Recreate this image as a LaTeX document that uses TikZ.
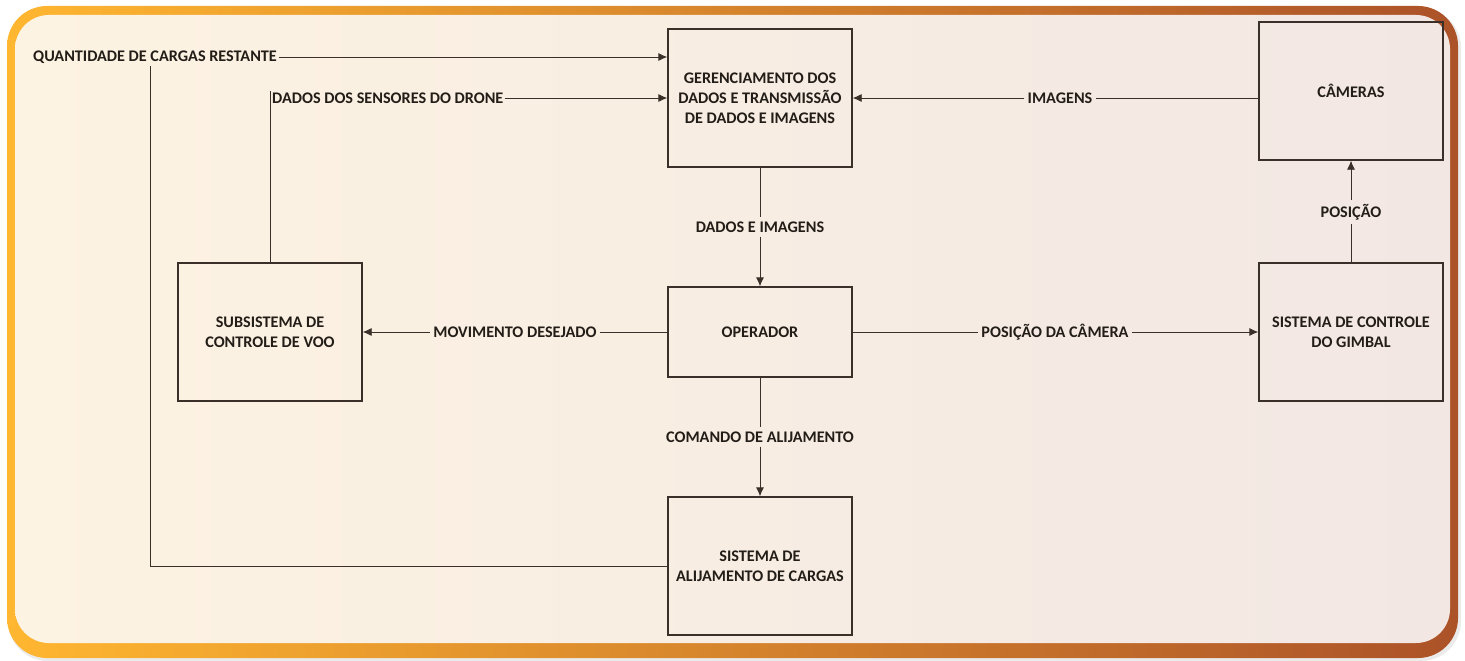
\documentclass[tikz,border=0pt]{standalone}
\usepackage{fontspec}
\setmainfont{Carlito}
\usetikzlibrary{arrows.meta}
\definecolor{fy}{HTML}{FFB630}
\definecolor{fo}{HTML}{F58E2B}
\definecolor{fb}{HTML}{AC5229}
\definecolor{bgl}{HTML}{FDF3E2}
\definecolor{bgm}{HTML}{FBEEE3}
\definecolor{bgr}{HTML}{F2E7E3}
\definecolor{ink}{HTML}{231D18}
\definecolor{ln}{HTML}{3A3029}
\tikzset{
  blk/.style={draw=ln, line width=1.3pt, minimum width=184pt, inner sep=4pt, align=center, text=ink},
  lbl/.style={inner sep=3pt, text=ink},
  conn/.style={draw=ln, line width=0.8pt},
  arr/.style={conn, -{Latex[length=9pt,width=8pt]}},
}
\begin{document}
\begin{tikzpicture}[x=1pt,y=-1pt,font=\fontsize{16.2}{20}\selectfont\bfseries]
\useasboundingbox (0,0) rectangle (1465,661);
\fill[white] (0,0) rectangle (1465,661);
% frame
\fill[black!8] (8,8) [rounded corners=40pt] rectangle (1461,661);
\shade[left color=fy, middle color=fo, right color=fb, rounded corners=40pt] (7,6) rectangle (1458,658);
\shade[left color=bgl, middle color=bgm, right color=bgr, rounded corners=34pt] (15,15) rectangle (1450,643);
% blocks
\node[blk, minimum height=138pt] (ger) at (760,98) {GERENCIAMENTO DOS\\DADOS E TRANSMISSÃO\\DE DADOS E IMAGENS};
\node[blk, minimum height=138pt] (cam) at (1351,91) {CÂMERAS};
\node[blk, minimum height=138pt] (sub) at (270,332) {SUBSISTEMA DE\\CONTROLE DE VOO};
\node[blk, minimum height=90pt] (op) at (760,332) {OPERADOR};
\node[blk, minimum height=138pt] (gim) at (1351,332) {SISTEMA DE CONTROLE\\DO GIMBAL};
\node[blk, minimum height=138pt] (alij) at (760,566) {SISTEMA DE\\ALIJAMENTO DE CARGAS};
% labels
\node[lbl, anchor=west, inner sep=2pt] (q) at (31,57) {QUANTIDADE DE CARGAS RESTANTE};
\node[lbl, anchor=west, inner sep=1pt] (s) at (271,98) {DADOS DOS SENSORES DO DRONE};
\node[lbl] (im) at (1060,98) {IMAGENS};
\node[lbl, inner sep=4pt] (di) at (760,227) {DADOS E IMAGENS};
\node[lbl] (mv) at (515,332) {MOVIMENTO DESEJADO};
\node[lbl] (pc) at (1055,332) {POSIÇÃO DA CÂMERA};
\node[lbl, inner sep=4pt] (ca) at (760,437) {COMANDO DE ALIJAMENTO};
\node[lbl, inner sep=4pt] (pos) at (1351,212) {POSIÇÃO};
\coordinate (qx) at (150,0);
% connectors
\draw[conn] (alij.west) -| (q.south -| qx);
\draw[arr] (q.east) -- (q.east -| ger.west);
\draw[conn] (sub.north) -- (sub.north |- s.north west);
\draw[arr] (s.east) -- (s.east -| ger.west);
\draw[conn] (cam.west |- ger.east) -- (im.east);
\draw[arr] (im.west) -- (ger.east);
\draw[conn] (ger.south) -- (di.north);
\draw[arr] (di.south) -- (op.north);
\draw[conn] (op.west) -- (mv.east);
\draw[arr] (mv.west) -- (sub.east);
\draw[conn] (op.east) -- (pc.west);
\draw[arr] (pc.east) -- (gim.west);
\draw[conn] (op.south) -- (ca.north);
\draw[arr] (ca.south) -- (alij.north);
\draw[conn] (gim.north) -- (pos.south);
\draw[arr] (pos.north) -- (cam.south);
\end{tikzpicture}
\end{document}
